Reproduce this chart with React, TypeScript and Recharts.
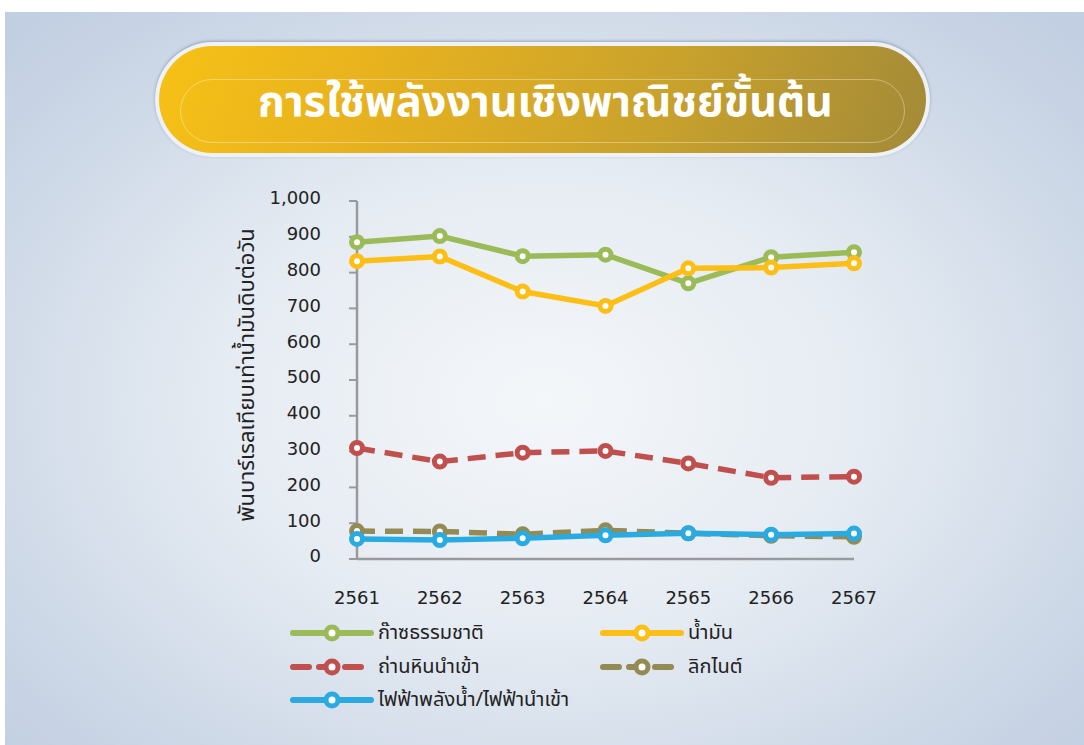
import { Legend, Line, LineChart, XAxis, YAxis } from 'recharts';

const years = ['2561', '2562', '2563', '2564', '2565', '2566', '2567'];
const gas = [885, 902, 846, 850, 770, 843, 857];
const oil = [832, 845, 747, 707, 812, 814, 826];
const coalImport = [310, 272, 297, 302, 267, 227, 230];
const lignite = [78, 77, 69, 80, 72, 65, 62];
const hydroImport = [56, 53, 58, 66, 72, 68, 71];
const yTicks = [0, 100, 200, 300, 400, 500, 600, 700, 800, 900, 1000];

const data = years.map((year, i) => ({
    year,
    gas: gas[i],
    oil: oil[i],
    coalImport: coalImport[i],
    lignite: lignite[i],
    hydroImport: hydroImport[i],
}));

const THAI = "'Noto Sans Thai', 'Noto Sans', 'DejaVu Sans', sans-serif";
const NUM = "'DejaVu Sans', sans-serif";

const series = [
    { key: 'gas', name: 'ก๊าซธรรมชาติ', color: '#9bbb59', dash: undefined },
    { key: 'oil', name: 'น้ำมัน', color: '#fdbf16', dash: undefined },
    { key: 'coalImport', name: 'ถ่านหินนำเข้า', color: '#c0504d', dash: '18 10' },
    { key: 'lignite', name: 'ลิกไนต์', color: '#948a54', dash: '18 10' },
    { key: 'hydroImport', name: 'ไฟฟ้าพลังน้ำ/ไฟฟ้านำเข้า', color: '#29abe2', dash: undefined },
];

function LegendIcon({ color, dash }: { color: string; dash?: string }) {
    return (
        <svg width={84} height={22} style={{ display: 'block' }}>
            <line x1={3} y1={11} x2={81} y2={11} stroke={color} strokeWidth={6}
                strokeDasharray={dash ? '16 10' : undefined} strokeLinecap="round" />
            <circle cx={42} cy={11} r={6} fill="#fff" stroke={color} strokeWidth={5} />
        </svg>
    );
}

function renderLegend() {
    return (
        <div style={{ display: 'grid', gridTemplateColumns: '310px 200px', rowGap: 11.5 }}>
            {series.map((s) => (
                <div key={s.key} style={{ display: 'flex', alignItems: 'center', height: 22 }}>
                    <LegendIcon color={s.color} dash={s.dash} />
                    <span style={{ marginLeft: 4, fontFamily: THAI, fontSize: 20, color: '#222', whiteSpace: 'nowrap', lineHeight: '22px' }}>
                        {s.name}
                    </span>
                </div>
            ))}
        </div>
    );
}

function YLabel(props: any) {
    const { viewBox } = props;
    const x = viewBox.x - 3;
    const y = viewBox.y + viewBox.height / 2 - 5;
    return (
        <text x={x} y={y} transform={`rotate(-90 ${x} ${y})`} textAnchor="middle"
            fontFamily={THAI} fontSize={22} fill="#222">
            พันบาร์เรลเทียบเท่าน้ำมันดิบต่อวัน
        </text>
    );
}

export default function App() {
    return (
        <div style={{ position: 'absolute', left: 0, top: 0, width: 1084, height: 745, background: '#fff', overflow: 'hidden' }}>
            <div style={{
                position: 'absolute', left: 5, top: 12, width: 1079, height: 733,
                background: 'radial-gradient(ellipse 68% 72% at 50% 53%, #f4f7fa 0%, #e5ebf2 45%, #cdd8e7 80%, #c2cfe2 100%)',
            }} />
            <div style={{
                position: 'absolute', left: 155, top: 42, width: 775, height: 115, borderRadius: 58,
                background: '#eef2f7', boxShadow: '0 -1px 3px rgba(90,110,140,0.5)',
            }} />
            <div style={{
                position: 'absolute', left: 159, top: 46, width: 767, height: 107, borderRadius: 54,
                background: 'linear-gradient(110deg, #f7c116 0%, #e6b11f 30%, #c9a22c 65%, #a38a38 100%)',
            }} />
            <div style={{
                position: 'absolute', left: 180, top: 79, width: 725, height: 64, borderRadius: 32,
                border: '1px solid rgba(255,255,255,0.35)', boxSizing: 'border-box',
            }} />
            <div style={{
                position: 'absolute', left: 158, top: 73, width: 775, textAlign: 'center',
                fontFamily: THAI, fontWeight: 700, fontSize: 43, color: '#fff', lineHeight: '60px',
            }}>
                การใช้พลังงานเชิงพาณิชย์ขั้นต้น
            </div>
            <div style={{ position: 'absolute', left: 0, top: 0 }}>
                <LineChart width={1084} height={745} data={data}
                    margin={{ top: 201, right: 230, bottom: 146, left: 257 }}>
                    <XAxis dataKey="year" axisLine={{ stroke: '#9a9a9e', strokeWidth: 2.5 }} tickLine={false}
                        tick={{ fontFamily: NUM, fontSize: 18, fill: '#222' }} tickMargin={26} height={40}
                        interval={0} />
                    <YAxis domain={[0, 1000]} ticks={yTicks} width={100} interval={0}
                        axisLine={{ stroke: '#9a9a9e', strokeWidth: 2.5 }}
                        tickLine={{ stroke: '#9a9a9e', strokeWidth: 2 }} tickSize={8} tickMargin={28}
                        tickFormatter={(v: number) => v.toLocaleString('en-US')}
                        tick={{ fontFamily: NUM, fontSize: 18, fill: '#222', dy: -3 }}
                        label={<YLabel />} />
                    <Legend layout="horizontal" verticalAlign="middle" align="center"
                        wrapperStyle={{ left: 290, top: 622, width: 540 }} content={renderLegend} />
                    {series.map((s) => (
                        <Line key={s.key} type="linear" dataKey={s.key} name={s.name} stroke={s.color}
                            strokeWidth={5.5} strokeDasharray={s.dash} isAnimationActive={false}
                            dot={{ r: 5.5, fill: '#fff', stroke: s.color, strokeWidth: 5, strokeDasharray: '' }}
                            activeDot={false} />
                    ))}
                </LineChart>
            </div>
        </div>
    );
}
